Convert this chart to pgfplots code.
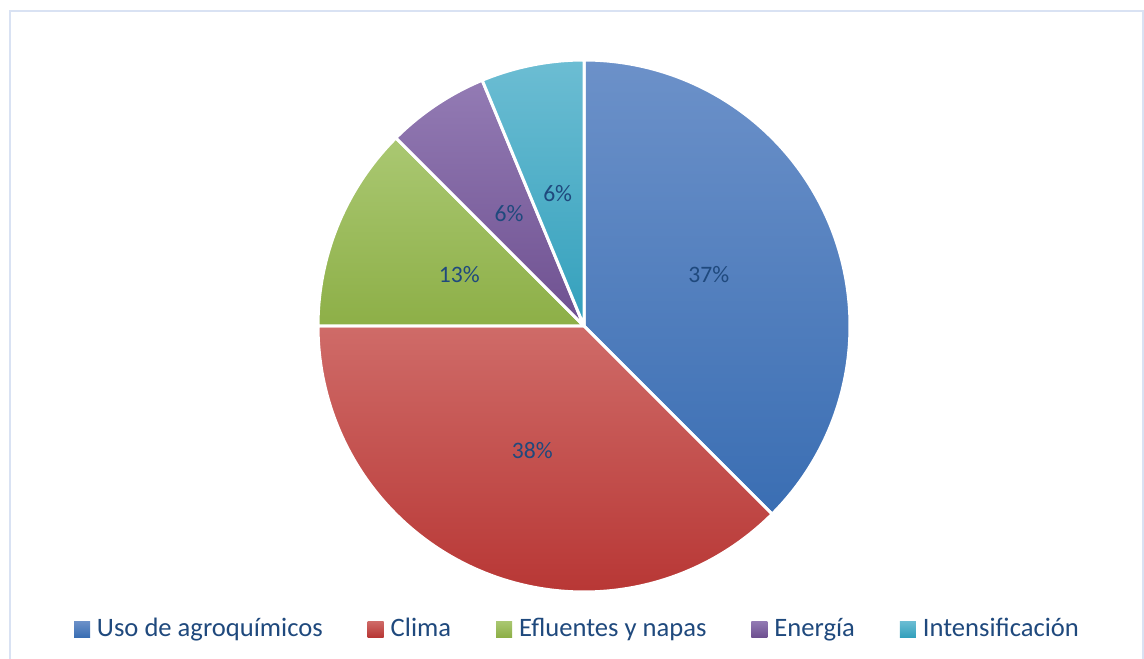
\documentclass[border=0pt]{standalone}
\usepackage{pgfplots}
\pgfplotsset{compat=1.18}
\usepackage{fontspec}
\setmainfont{Carlito}
\definecolor{txt}{HTML}{1F497D}
\definecolor{framec}{HTML}{D9E2F3}
\definecolor{bT}{HTML}{6C91C9}\definecolor{bB}{HTML}{3A6EB3}
\definecolor{rT}{HTML}{CF6B68}\definecolor{rB}{HTML}{B83735}
\definecolor{gT}{HTML}{AAC872}\definecolor{gB}{HTML}{8DAF47}
\definecolor{pT}{HTML}{937BB4}\definecolor{pB}{HTML}{6E5090}
\definecolor{cT}{HTML}{6CBDD3}\definecolor{cB}{HTML}{33A0BC}
\newcommand\pieslice[5]{%
  \addplot[forget plot, draw=white, line width=1.5pt, line join=round,
    top color=#1, bottom color=#2, domain=#3:#4, samples=150]
    ({\cx+\R*cos(x)},{\cy+\R*sin(x)}) -- (axis cs:\cx,\cy) -- cycle;
  \pgfmathsetmacro\lx{\cx+\rl*cos((#3+#4)/2)}%
  \pgfmathsetmacro\ly{\cy+\rl*sin((#3+#4)/2)}%
  \edef\tmp{\noexpand\node[text=txt, font=\noexpand\fontsize{11.8}{13}\noexpand\selectfont] at (axis cs:\lx,\ly) {#5};}\tmp
}
\begin{document}
\begin{tikzpicture}
\def\cx{584}\def\cy{332}\def\R{266}\def\rl{135}
% data values (counts)
\def\vA{6}\def\vB{6}\def\vC{2}\def\vD{1}\def\vE{1}
\pgfmathsetmacro\tot{\vA+\vB+\vC+\vD+\vE}
\pgfmathsetmacro\aA{90}
\pgfmathsetmacro\aB{\aA-360*\vA/\tot}
\pgfmathsetmacro\aC{\aB-360*\vB/\tot}
\pgfmathsetmacro\aD{\aC-360*\vC/\tot}
\pgfmathsetmacro\aE{\aD-360*\vD/\tot}
\pgfmathsetmacro\aF{\aE-360*\vE/\tot}
\begin{axis}[scale only axis, width=572pt, height=329pt,
  xmin=0, xmax=1144, ymin=0, ymax=658, hide axis, clip=false,
  legend columns=5,
  legend style={at={(axis cs:74,29)}, anchor=west, draw=none, fill=none,
    inner sep=0pt, outer sep=0pt, font=\fontsize{13.3}{15}\selectfont, text=txt,
    nodes={inner sep=0pt}, column sep=0pt,
    /tikz/every even column/.append style={column sep=22.5pt}},
  legend image code/.code={\path[#1] (0pt,-4pt) rectangle (8pt,4pt); \path (11.5pt,0pt);},
]
\draw[framec, line width=1pt] (axis cs:9.5,-10) rectangle (axis cs:1143,647);
\pieslice{bT}{bB}{\aA}{\aB}{37\%}
\pieslice{rT}{rB}{\aB}{\aC}{38\%}
\pieslice{gT}{gB}{\aC}{\aD}{13\%}
\pieslice{pT}{pB}{\aD}{\aE}{6\%}
\pieslice{cT}{cB}{\aE}{\aF}{6\%}
\addlegendimage{top color=bT, bottom color=bB, draw=none}
\addlegendentry{Uso de agroquímicos}
\addlegendimage{top color=rT, bottom color=rB, draw=none}
\addlegendentry{Clima}
\addlegendimage{top color=gT, bottom color=gB, draw=none}
\addlegendentry{Efluentes y napas}
\addlegendimage{top color=pT, bottom color=pB, draw=none}
\addlegendentry{Energía}
\addlegendimage{top color=cT, bottom color=cB, draw=none}
\addlegendentry{Intensificación}
\end{axis}
\pgfresetboundingbox
\useasboundingbox (0,0) rectangle (572pt,329pt);
\end{tikzpicture}
\end{document}
